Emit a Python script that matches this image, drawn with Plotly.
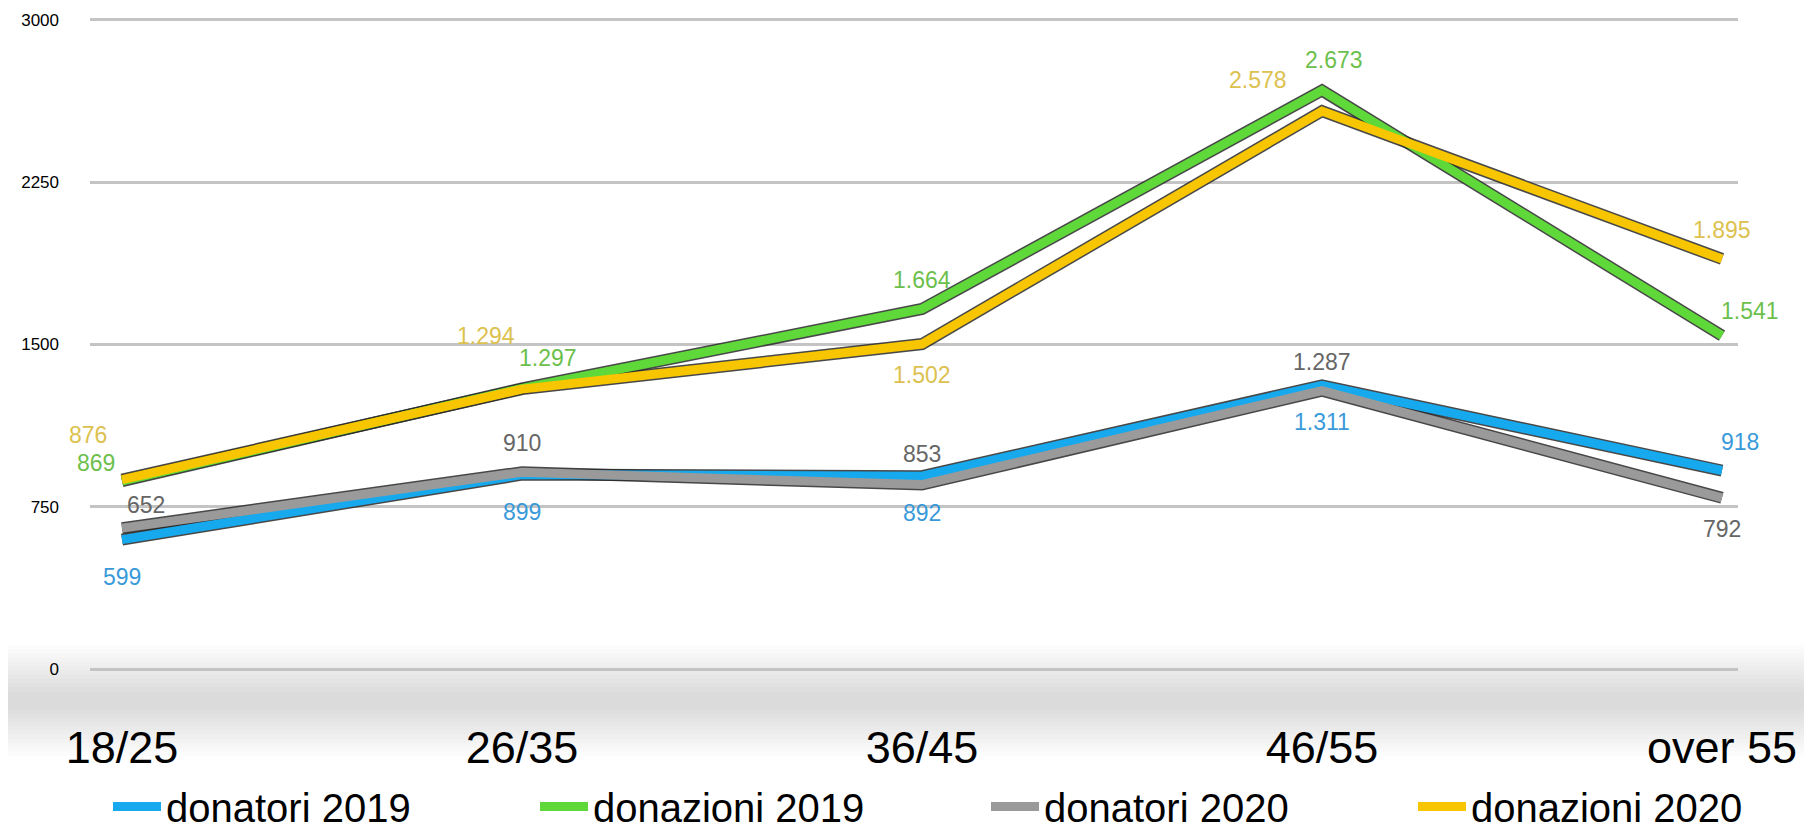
import plotly.graph_objects as go

categories = ["18/25", "26/35", "36/45", "46/55", "over 55"]
donatori_2019 = [599, 899, 892, 1311, 918]
donazioni_2019 = [869, 1297, 1664, 2673, 1541]
donatori_2020 = [652, 910, 853, 1287, 792]
donazioni_2020 = [876, 1294, 1502, 2578, 1895]
y_ticks = [0, 750, 1500, 2250, 3000]

# (name, values, line colour, label colour, label pixel offsets, legend id, legend x)
series = [
    ("donatori 2019", donatori_2019, "#17a9ee", "#3a9ad9",
     [(0, -37), (0, -37), (0, -37), (0, -37), (18, 29)], "legend", 100),
    ("donazioni 2019", donazioni_2019, "#5fd93a", "#6cbf4c",
     [(-26, 18), (26, 30), (0, 29), (12, 31), (28, 25)], "legend2", 527),
    ("donatori 2020", donatori_2020, "#9a9a9a", "#666666",
     [(24, 23), (0, 29), (0, 31), (0, 29), (0, -31)], "legend3", 978),
    ("donazioni 2020", donazioni_2020, "#f7c600", "#dcc14e",
     [(-34, 45), (-36, 53), (0, -31), (-64, 31), (0, 29)], "legend4", 1405),
]

fig = go.Figure()
for name, vals, col, tcol, offs, lg, lx in series:
    fig.add_trace(go.Scatter(
        x=categories, y=vals, mode="lines",
        line=dict(color="rgba(40,40,40,0.85)", width=12),
        showlegend=False, hoverinfo="skip"))
for name, vals, col, tcol, offs, lg, lx in series:
    fig.add_trace(go.Scatter(
        x=categories, y=vals, mode="lines", name=name, legend=lg,
        line=dict(color=col, width=9)))

annotations = []
for name, vals, col, tcol, offs, lg, lx in series:
    for c, v, (dx, dy) in zip(categories, vals, offs):
        annotations.append(dict(
            x=c, y=v, xref="x", yref="y", text=f"{v:,}".replace(",", "."),
            showarrow=False, xshift=dx, yshift=dy,
            font=dict(color=tcol, size=23, family="Liberation Sans")))

# soft floor shadow (stacked translucent bands)
shapes = []
for i in range(12):
    h = 0.17 - i * 0.013
    shapes.append(dict(type="rect", xref="paper", yref="paper",
                       x0=-0.05, x1=1.05, y0=-0.045 - h / 2, y1=-0.045 + h / 2,
                       fillcolor="rgba(90,90,90,0.018)", line=dict(width=0),
                       layer="below"))

legend_common = dict(orientation="h", xref="container", yref="container",
                     y=-0.02, xanchor="left", yanchor="bottom",
                     font=dict(size=40), itemwidth=48,
                     bgcolor="rgba(0,0,0,0)")
legends = {}
for name, vals, col, tcol, offs, lg, lx in series:
    legends[lg] = dict(legend_common, x=lx / 1812)

fig.update_layout(
    width=1812, height=831,
    paper_bgcolor="white", plot_bgcolor="rgba(0,0,0,0)",
    margin=dict(l=82, r=82, t=10, b=168),
    font=dict(family="Liberation Sans", color="black"),
    annotations=annotations,
    shapes=shapes,
    xaxis=dict(showgrid=False, showline=False, zeroline=False,
               tickfont=dict(size=45), ticks="", range=[-0.08, 4.04],
               ticklabelstandoff=46, automargin=False),
    yaxis=dict(range=[-8, 3008], tickvals=y_ticks, showgrid=True,
               gridcolor="#c4c4c4", gridwidth=3, zeroline=False,
               tickfont=dict(size=17), ticklabelstandoff=30, automargin=False),
    **legends,
)

fig.write_html("out.html")
